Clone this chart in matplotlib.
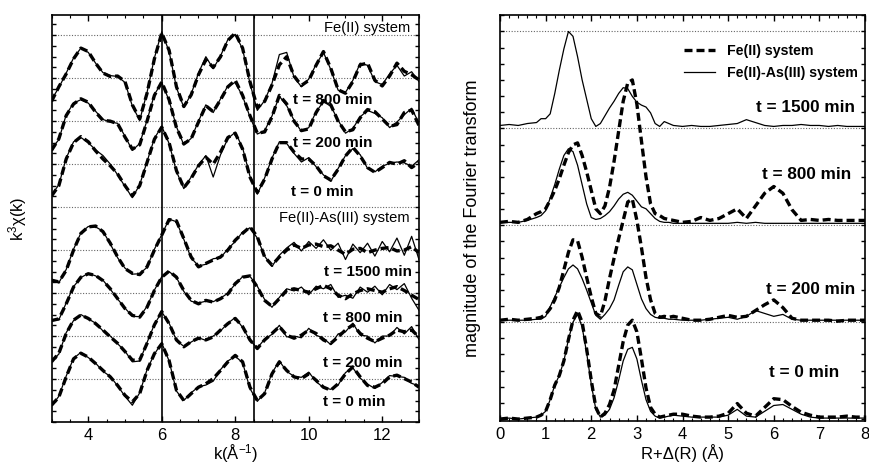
import matplotlib
matplotlib.use('Agg')
import matplotlib.pyplot as plt
from matplotlib.ticker import MultipleLocator, NullFormatter
from matplotlib.lines import Line2D
import numpy as np

plt.rcParams['font.family'] = ['Liberation Sans', 'DejaVu Sans']
plt.rcParams['mathtext.fontset'] = 'custom'
plt.rcParams['mathtext.rm'] = 'Liberation Sans'
plt.rcParams['mathtext.it'] = 'Liberation Sans:italic'

# ---- k-space spectra, k = 3.0 ... 13.0 in 0.2 steps ----
k = np.round(np.arange(3.0, 13.01, 0.2), 1)

fe_800_fit = [-0.54, -0.20, 0.10, 0.45, 0.70, 0.62, 0.35, 0.12, 0.04, 0.05,
              -0.08, -0.62, -0.95, -0.35, 0.45, 1.05, 0.65, -0.20, -0.66, -0.39,
              0.08, 0.43, 0.25, 0.50, 0.88, 1.05, 0.70, -0.08, -0.68, -0.54,
              -0.16, 0.31, 0.50, 0.05, -0.17, -0.05, 0.30, 0.62, 0.23, -0.27,
              -0.35, -0.08, 0.31, 0.35, -0.05, -0.18, 0.05, 0.35, 0.16, 0.08,
              -0.04]
fe_800_data = [-0.50, -0.22, 0.12, 0.47, 0.70, 0.60, 0.35, 0.13, 0.06, 0.04,
               -0.10, -0.65, -0.98, -0.33, 0.47, 1.08, 0.62, -0.22, -0.68, -0.37,
               0.12, 0.50, 0.22, 0.52, 0.90, 1.02, 0.68, -0.12, -0.75, -0.52,
               -0.12, 0.55, 0.60, 0.02, -0.20, -0.02, 0.32, 0.60, 0.20, -0.28,
               -0.33, -0.05, 0.35, 0.30, -0.08, -0.15, 0.10, 0.30, 0.05, 0.15,
               -0.08]
fe_200_fit = [-0.68, -0.41, 0.13, 0.40, 0.52, 0.44, 0.21, 0.02, 0.00, -0.06,
              -0.37, -0.65, -0.55, 0.00, 0.60, 0.91, 0.50, -0.15, -0.53, -0.41,
              -0.02, 0.36, 0.22, 0.50, 0.80, 0.95, 0.60, 0.13, -0.28, -0.25,
              0.10, 0.60, 0.40, 0.00, -0.22, -0.18, 0.20, 0.48, 0.38, 0.00,
              -0.25, -0.20, 0.08, 0.27, 0.22, 0.05, -0.12, -0.08, 0.20, 0.26,
              -0.10]
fe_200_data = [-0.64, -0.43, 0.15, 0.42, 0.50, 0.42, 0.23, 0.04, -0.02, -0.05,
               -0.35, -0.68, -0.52, 0.02, 0.62, 0.90, 0.48, -0.13, -0.55, -0.40,
               0.00, 0.38, 0.20, 0.52, 0.82, 0.90, 0.58, 0.10, -0.30, -0.22,
               0.12, 0.58, 0.36, 0.02, -0.24, -0.15, 0.22, 0.45, 0.35, 0.02,
               -0.28, -0.17, 0.10, 0.25, 0.18, 0.08, -0.15, -0.02, 0.15, 0.30,
               -0.05]
fe_0_fit = [-0.74, -0.50, 0.12, 0.50, 0.64, 0.52, 0.31, 0.12, -0.04, -0.23,
            -0.50, -0.74, -0.50, 0.04, 0.58, 0.86, 0.50, -0.15, -0.55, -0.33,
            -0.04, 0.16, 0.00, 0.28, 0.62, 0.72, 0.35, -0.30, -0.66, -0.35,
            0.12, 0.50, 0.50, 0.28, 0.12, 0.12, -0.04, -0.27, -0.37, -0.12,
            0.19, 0.39, 0.19, -0.08, -0.19, -0.08, 0.04, 0.00, 0.08, -0.08,
            0.04]
fe_0_data = [-0.72, -0.48, 0.14, 0.52, 0.62, 0.50, 0.33, 0.20, 0.00, -0.25,
             -0.52, -0.78, -0.48, 0.06, 0.60, 0.88, 0.48, -0.17, -0.57, -0.30,
             -0.02, 0.20, -0.30, 0.22, 0.60, 0.74, 0.38, -0.28, -0.70, -0.32,
             0.14, 0.52, 0.48, 0.25, 0.05, 0.15, -0.06, -0.25, -0.40, -0.10,
             0.20, 0.36, 0.22, -0.10, -0.18, -0.05, 0.02, 0.05, 0.03, -0.05,
             0.10]
as_1500_fit = [-0.70, -0.74, -0.47, 0.00, 0.39, 0.54, 0.56, 0.43, 0.16, -0.16,
               -0.43, -0.54, -0.57, -0.39, 0.00, 0.35, 0.71, 0.68, 0.27, -0.16,
               -0.39, -0.31, -0.23, -0.16, 0.00, 0.23, 0.39, 0.54, 0.31, -0.16,
               -0.35, -0.16, 0.00, 0.12, 0.04, 0.12, 0.14, 0.08, 0.10, 0.00,
               -0.10, 0.02, 0.04, -0.06, 0.00, 0.04, 0.06, -0.02, 0.00, 0.08,
               -0.06]
as_1500_data = [-0.68, -0.76, -0.45, 0.02, 0.40, 0.55, 0.54, 0.44, 0.14, -0.18,
                -0.42, -0.56, -0.55, -0.40, 0.02, 0.36, 0.72, 0.66, 0.25, -0.18,
                -0.37, -0.33, -0.20, -0.18, 0.03, 0.20, 0.42, 0.52, 0.28, -0.14,
                -0.38, -0.12, 0.05, 0.18, -0.02, 0.20, 0.04, 0.24, 0.00, 0.16,
                -0.22, 0.14, -0.06, 0.16, -0.14, 0.20, -0.04, 0.28, -0.12, 0.32,
                -0.22]
as_800_fit = [-0.64, -0.60, -0.25, 0.14, 0.37, 0.45, 0.41, 0.29, 0.10, -0.13,
              -0.36, -0.52, -0.56, -0.33, 0.06, 0.37, 0.51, 0.37, 0.06, -0.17,
              -0.25, -0.17, -0.21, -0.13, -0.02, 0.22, 0.37, 0.40, 0.14, -0.17,
              -0.31, -0.13, 0.06, 0.10, 0.06, 0.02, 0.10, 0.18, 0.10, -0.05,
              -0.13, -0.02, 0.06, 0.10, 0.06, 0.02, 0.10, 0.15, 0.06, -0.05,
              -0.15]
as_800_data = [-0.62, -0.62, -0.23, 0.15, 0.36, 0.46, 0.40, 0.30, 0.09, -0.14,
               -0.35, -0.54, -0.55, -0.31, 0.07, 0.38, 0.50, 0.36, 0.04, -0.19,
               -0.23, -0.19, -0.20, -0.12, 0.00, 0.21, 0.38, 0.39, 0.16, -0.15,
               -0.33, -0.10, 0.10, 0.05, 0.14, -0.04, 0.16, 0.10, 0.20, -0.10,
               -0.05, -0.12, 0.14, 0.02, 0.16, -0.04, 0.20, 0.08, 0.22, -0.12,
               -0.40]
as_200_fit = [-0.60, -0.40, 0.06, 0.37, 0.49, 0.41, 0.29, 0.14, -0.02, -0.17,
              -0.36, -0.56, -0.56, -0.17, 0.26, 0.57, 0.29, -0.09, -0.25, -0.13,
              -0.05, -0.09, -0.02, 0.14, 0.29, 0.41, 0.22, -0.09, -0.29, -0.09,
              0.06, 0.22, 0.02, -0.05, 0.02, 0.14, 0.06, -0.09, -0.17, -0.02,
              0.14, 0.26, 0.06, -0.05, -0.13, -0.05, 0.02, 0.14, 0.10, 0.14,
              -0.02]
as_200_data = [-0.58, -0.42, 0.08, 0.36, 0.50, 0.40, 0.30, 0.12, 0.00, -0.18,
               -0.35, -0.60, -0.58, -0.15, 0.27, 0.56, 0.30, -0.10, -0.24, -0.14,
               -0.04, -0.10, 0.00, 0.12, 0.30, 0.43, 0.20, -0.10, -0.28, -0.07,
               0.04, 0.25, -0.02, 0.00, -0.04, 0.18, 0.02, -0.05, -0.20, 0.05,
               0.10, 0.30, 0.02, 0.00, -0.16, 0.00, 0.00, 0.20, 0.05, 0.22,
               -0.08]
as_0_fit = [-0.61, -0.42, 0.05, 0.47, 0.60, 0.51, 0.36, 0.20, 0.05, -0.15,
            -0.38, -0.53, -0.34, 0.20, 0.59, 0.82, 0.43, -0.26, -0.50, -0.34,
            -0.19, -0.11, 0.01, 0.20, 0.40, 0.55, 0.40, -0.19, -0.50, -0.34,
            0.12, 0.40, 0.20, 0.05, 0.01, 0.12, -0.03, -0.19, -0.26, -0.11,
            0.12, 0.28, 0.05, -0.15, -0.19, -0.11, 0.05, 0.09, 0.01, -0.07,
            -0.19]
as_0_data = [-0.63, -0.40, 0.07, 0.48, 0.62, 0.50, 0.37, 0.18, 0.06, -0.16,
             -0.40, -0.61, -0.32, 0.22, 0.58, 0.84, 0.42, -0.28, -0.50, -0.32,
             -0.18, -0.14, -0.05, 0.22, 0.42, 0.53, 0.38, -0.22, -0.52, -0.32,
             0.14, 0.42, 0.18, 0.06, 0.04, 0.16, -0.06, -0.20, -0.24, -0.14,
             0.15, 0.26, 0.02, -0.12, -0.22, -0.08, 0.08, 0.06, 0.04, -0.10,
             -0.16]

# ---- Fourier transform magnitudes ----
r = [0.0, 0.2, 0.4, 0.6, 0.8,
     0.9, 1.0, 1.1, 1.2, 1.3, 1.4, 1.5, 1.6, 1.7, 1.8,
     1.9, 2.0, 2.1, 2.2, 2.3, 2.4, 2.5, 2.6, 2.7, 2.8,
     2.9, 3.0, 3.1, 3.2, 3.3, 3.4, 3.5, 3.6, 3.7, 3.8,
     4.0, 4.2, 4.4, 4.6, 4.8, 5.0, 5.2, 5.4, 5.6, 5.8,
     6.0, 6.2, 6.4, 6.6, 6.8, 7.0, 7.2, 7.4, 7.6, 7.8, 8.0]

ft_as_1500 = [0.03, 0.04, 0.03, 0.05, 0.06,
              0.10, 0.10, 0.15, 0.36, 0.60, 0.82, 1.00, 0.95, 0.74, 0.50,
              0.30, 0.10, 0.02, 0.05, 0.13, 0.21, 0.28, 0.36, 0.42, 0.41,
              0.33, 0.27, 0.24, 0.22, 0.16, 0.05, 0.02, 0.07, 0.05, 0.03,
              0.02, 0.03, 0.02, 0.02, 0.03, 0.04, 0.05, 0.09, 0.06, 0.03,
              0.02, 0.03, 0.03, 0.04, 0.03, 0.03, 0.02, 0.03, 0.02, 0.02, 0.02]
ft_fe_800 = [0.03, 0.04, 0.03, 0.06, 0.12,
             0.14, 0.17, 0.26, 0.36, 0.48, 0.62, 0.75, 0.83, 0.85, 0.72,
             0.55, 0.36, 0.17, 0.12, 0.20, 0.39, 0.66, 0.97, 1.28, 1.47,
             1.50, 1.25, 0.87, 0.50, 0.22, 0.12, 0.10, 0.07, 0.06, 0.05,
             0.03, 0.04, 0.08, 0.05, 0.07, 0.12, 0.17, 0.07, 0.20, 0.33,
             0.40, 0.33, 0.16, 0.05, 0.06, 0.05, 0.06, 0.05, 0.05, 0.05, 0.05]
ft_as_800 = [0.03, 0.03, 0.03, 0.05, 0.08,
             0.10, 0.15, 0.28, 0.42, 0.58, 0.72, 0.79, 0.76, 0.62, 0.42,
             0.22, 0.08, 0.06, 0.07, 0.10, 0.14, 0.20, 0.27, 0.32, 0.34,
             0.31, 0.25, 0.19, 0.17, 0.12, 0.07, 0.04, 0.03, 0.03, 0.02,
             0.02, 0.02, 0.02, 0.02, 0.02, 0.02, 0.03, 0.02, 0.03, 0.02,
             0.02, 0.02, 0.02, 0.02, 0.02, 0.02, 0.02, 0.02, 0.02, 0.02, 0.02]
ft_fe_200 = [0.02, 0.03, 0.02, 0.03, 0.04,
             0.05, 0.08, 0.14, 0.23, 0.36, 0.54, 0.72, 0.85, 0.84, 0.67,
             0.46, 0.26, 0.09, 0.06, 0.22, 0.45, 0.66, 0.86, 1.05, 1.24,
             1.27, 1.05, 0.77, 0.46, 0.23, 0.09, 0.05, 0.06, 0.05, 0.06,
             0.04, 0.02, 0.02, 0.03, 0.05, 0.07, 0.05, 0.06, 0.12, 0.18,
             0.23, 0.15, 0.04, 0.02, 0.02, 0.02, 0.02, 0.01, 0.02, 0.02, 0.02]
ft_as_200 = [0.02, 0.02, 0.02, 0.02, 0.03,
             0.03, 0.06, 0.16, 0.26, 0.36, 0.46, 0.55, 0.59, 0.55, 0.45,
             0.33, 0.20, 0.07, 0.03, 0.08, 0.14, 0.23, 0.38, 0.52, 0.57,
             0.54, 0.39, 0.24, 0.14, 0.08, 0.05, 0.04, 0.04, 0.03, 0.03,
             0.02, 0.02, 0.02, 0.03, 0.04, 0.05, 0.03, 0.06, 0.12, 0.09,
             0.06, 0.08, 0.03, 0.02, 0.02, 0.02, 0.02, 0.02, 0.02, 0.02, 0.02]
ft_fe_0 = [0.00, 0.01, 0.00, 0.01, 0.02,
           0.04, 0.08, 0.20, 0.35, 0.45, 0.60, 0.82, 1.02, 1.12, 1.00,
           0.72, 0.40, 0.12, 0.02, 0.06, 0.15, 0.30, 0.55, 0.80, 0.97,
           1.02, 0.90, 0.62, 0.32, 0.12, 0.05, 0.02, 0.03, 0.04, 0.05,
           0.05, 0.03, 0.02, 0.02, 0.03, 0.06, 0.16, 0.06, 0.03, 0.12,
           0.21, 0.20, 0.13, 0.07, 0.04, 0.02, 0.02, 0.02, 0.03, 0.02, 0.02]
ft_as_0 = [0.00, 0.01, 0.00, 0.01, 0.02,
           0.04, 0.08, 0.20, 0.35, 0.45, 0.60, 0.82, 1.00, 1.08, 0.95,
           0.68, 0.36, 0.10, 0.02, 0.04, 0.10, 0.22, 0.40, 0.60, 0.72,
           0.74, 0.62, 0.40, 0.20, 0.08, 0.03, 0.01, 0.02, 0.03, 0.04,
           0.03, 0.02, 0.02, 0.02, 0.02, 0.04, 0.10, 0.03, 0.02, 0.08,
           0.14, 0.15, 0.10, 0.05, 0.02, 0.01, 0.01, 0.01, 0.01, 0.01, 0.01]

DASH = dict(color='black', lw=2.4, ls=(0, (2.4, 1.2)))
SOLID = dict(color='black', lw=0.9)
GRID = dict(color='0.4', lw=0.8, ls=(0, (1, 1.5)), zorder=0)
LABEL_K = dict(fontsize=11, fontweight='bold', ha='center', va='center')
LABEL_R = dict(fontsize=12.3, fontweight='bold', ha='center', va='center')

fig = plt.figure(figsize=(8.7, 4.66), dpi=100)
ax1 = fig.add_axes([0.0592, 0.0944, 0.4224, 0.8734])
ax2 = fig.add_axes([0.5747, 0.0966, 0.4196, 0.8712])

# ---- left: k^3 chi(k), stacked ----
stack = [(as_0_fit, as_0_data, 1), (as_200_fit, as_200_data, 2),
         (as_800_fit, as_800_data, 3), (as_1500_fit, as_1500_data, 4),
         (fe_0_fit, fe_0_data, 6), (fe_200_fit, fe_200_data, 7),
         (fe_800_fit, fe_800_data, 8)]
for base in range(1, 10):
    ax1.axhline(base, **GRID)
for fit, data, base in stack:
    ax1.plot(k, np.array(data) + base, **SOLID)
    ax1.plot(k, np.array(fit) + base, **DASH)
ax1.axvline(6.0, color='black', lw=1.2)
ax1.axvline(8.5, color='black', lw=1.2)

ax1.set_xlim(3, 13)
ax1.set_ylim(0, 9.47)
ax1.xaxis.set_major_locator(MultipleLocator(2))
ax1.xaxis.set_minor_locator(MultipleLocator(0.5))
ax1.yaxis.set_major_locator(MultipleLocator(0.25))
ax1.yaxis.set_major_formatter(NullFormatter())
ax1.set_xlabel('k(Å$^{-1}$)', fontsize=12, labelpad=0)
ax1.set_ylabel('k$^3$χ(k)', fontsize=12, labelpad=12)

ax1.text(12.75, 9.16, 'Fe(II) system', fontsize=10.6, ha='right', va='center')
ax1.text(12.75, 4.74, 'Fe(II)-As(III) system', fontsize=10.6, ha='right', va='center')
ax1.text(10.64, 7.49, 't = 800 min', **LABEL_K)
ax1.text(10.64, 6.49, 't = 200 min', **LABEL_K)
ax1.text(10.37, 5.35, 't = 0 min', **LABEL_K)
ax1.text(11.6, 3.49, 't = 1500 min', **LABEL_K)
ax1.text(11.46, 2.42, 't = 800 min', **LABEL_K)
ax1.text(11.46, 1.37, 't = 200 min', **LABEL_K)
ax1.text(11.24, 0.47, 't = 0 min', **LABEL_K)

# ---- right: FT magnitude, stacked ----
for base in range(1, 5):
    ax2.axhline(base, **GRID)
ax2.plot(r, np.array(ft_as_1500) + 3, **SOLID)
ax2.plot(r, np.array(ft_as_800) + 2, **SOLID)
ax2.plot(r, np.array(ft_fe_800) + 2, **DASH)
ax2.plot(r, np.array(ft_as_200) + 1, **SOLID)
ax2.plot(r, np.array(ft_fe_200) + 1, **DASH)
ax2.plot(r, np.array(ft_as_0), **SOLID)
ax2.plot(r, np.array(ft_fe_0), **DASH)

ax2.set_xlim(0, 8)
ax2.set_ylim(-0.02, 4.17)
ax2.xaxis.set_major_locator(MultipleLocator(1))
ax2.xaxis.set_minor_locator(MultipleLocator(0.2))
ax2.yaxis.set_major_locator(MultipleLocator(1 / 6))
ax2.yaxis.set_major_formatter(NullFormatter())
ax2.set_xlabel('R+Δ(R) (Å)', fontsize=12, labelpad=2)
ax2.set_ylabel('magnitude of the Fourier transform', fontsize=13, labelpad=10)

ax2.text(6.69, 3.22, 't = 1500 min', **LABEL_R)
ax2.text(6.71, 2.52, 't = 800 min', **LABEL_R)
ax2.text(6.8, 1.34, 't = 200 min', **LABEL_R)
ax2.text(6.67, 0.48, 't = 0 min', **LABEL_R)

handles = [Line2D([], [], **DASH), Line2D([], [], **SOLID)]
ax2.legend(handles, ['Fe(II) system', 'Fe(II)-As(III) system'],
           loc='upper left', bbox_to_anchor=(0.47, 0.96), frameon=False,
           handlelength=2.2, handletextpad=0.8, labelspacing=0.55,
           prop=dict(size=10.2, weight='bold'))

for ax in (ax1, ax2):
    for s in ax.spines.values():
        s.set_linewidth(1.2)
    ax.tick_params(which='both', direction='in', top=True, right=True,
                   labelsize=12, pad=4)
    ax.tick_params(which='major', length=4, width=1)
    ax.tick_params(which='minor', length=2.5, width=0.8)
    ax.tick_params(axis='y', which='major', length=3)

fig.savefig('out.png', dpi=100)
